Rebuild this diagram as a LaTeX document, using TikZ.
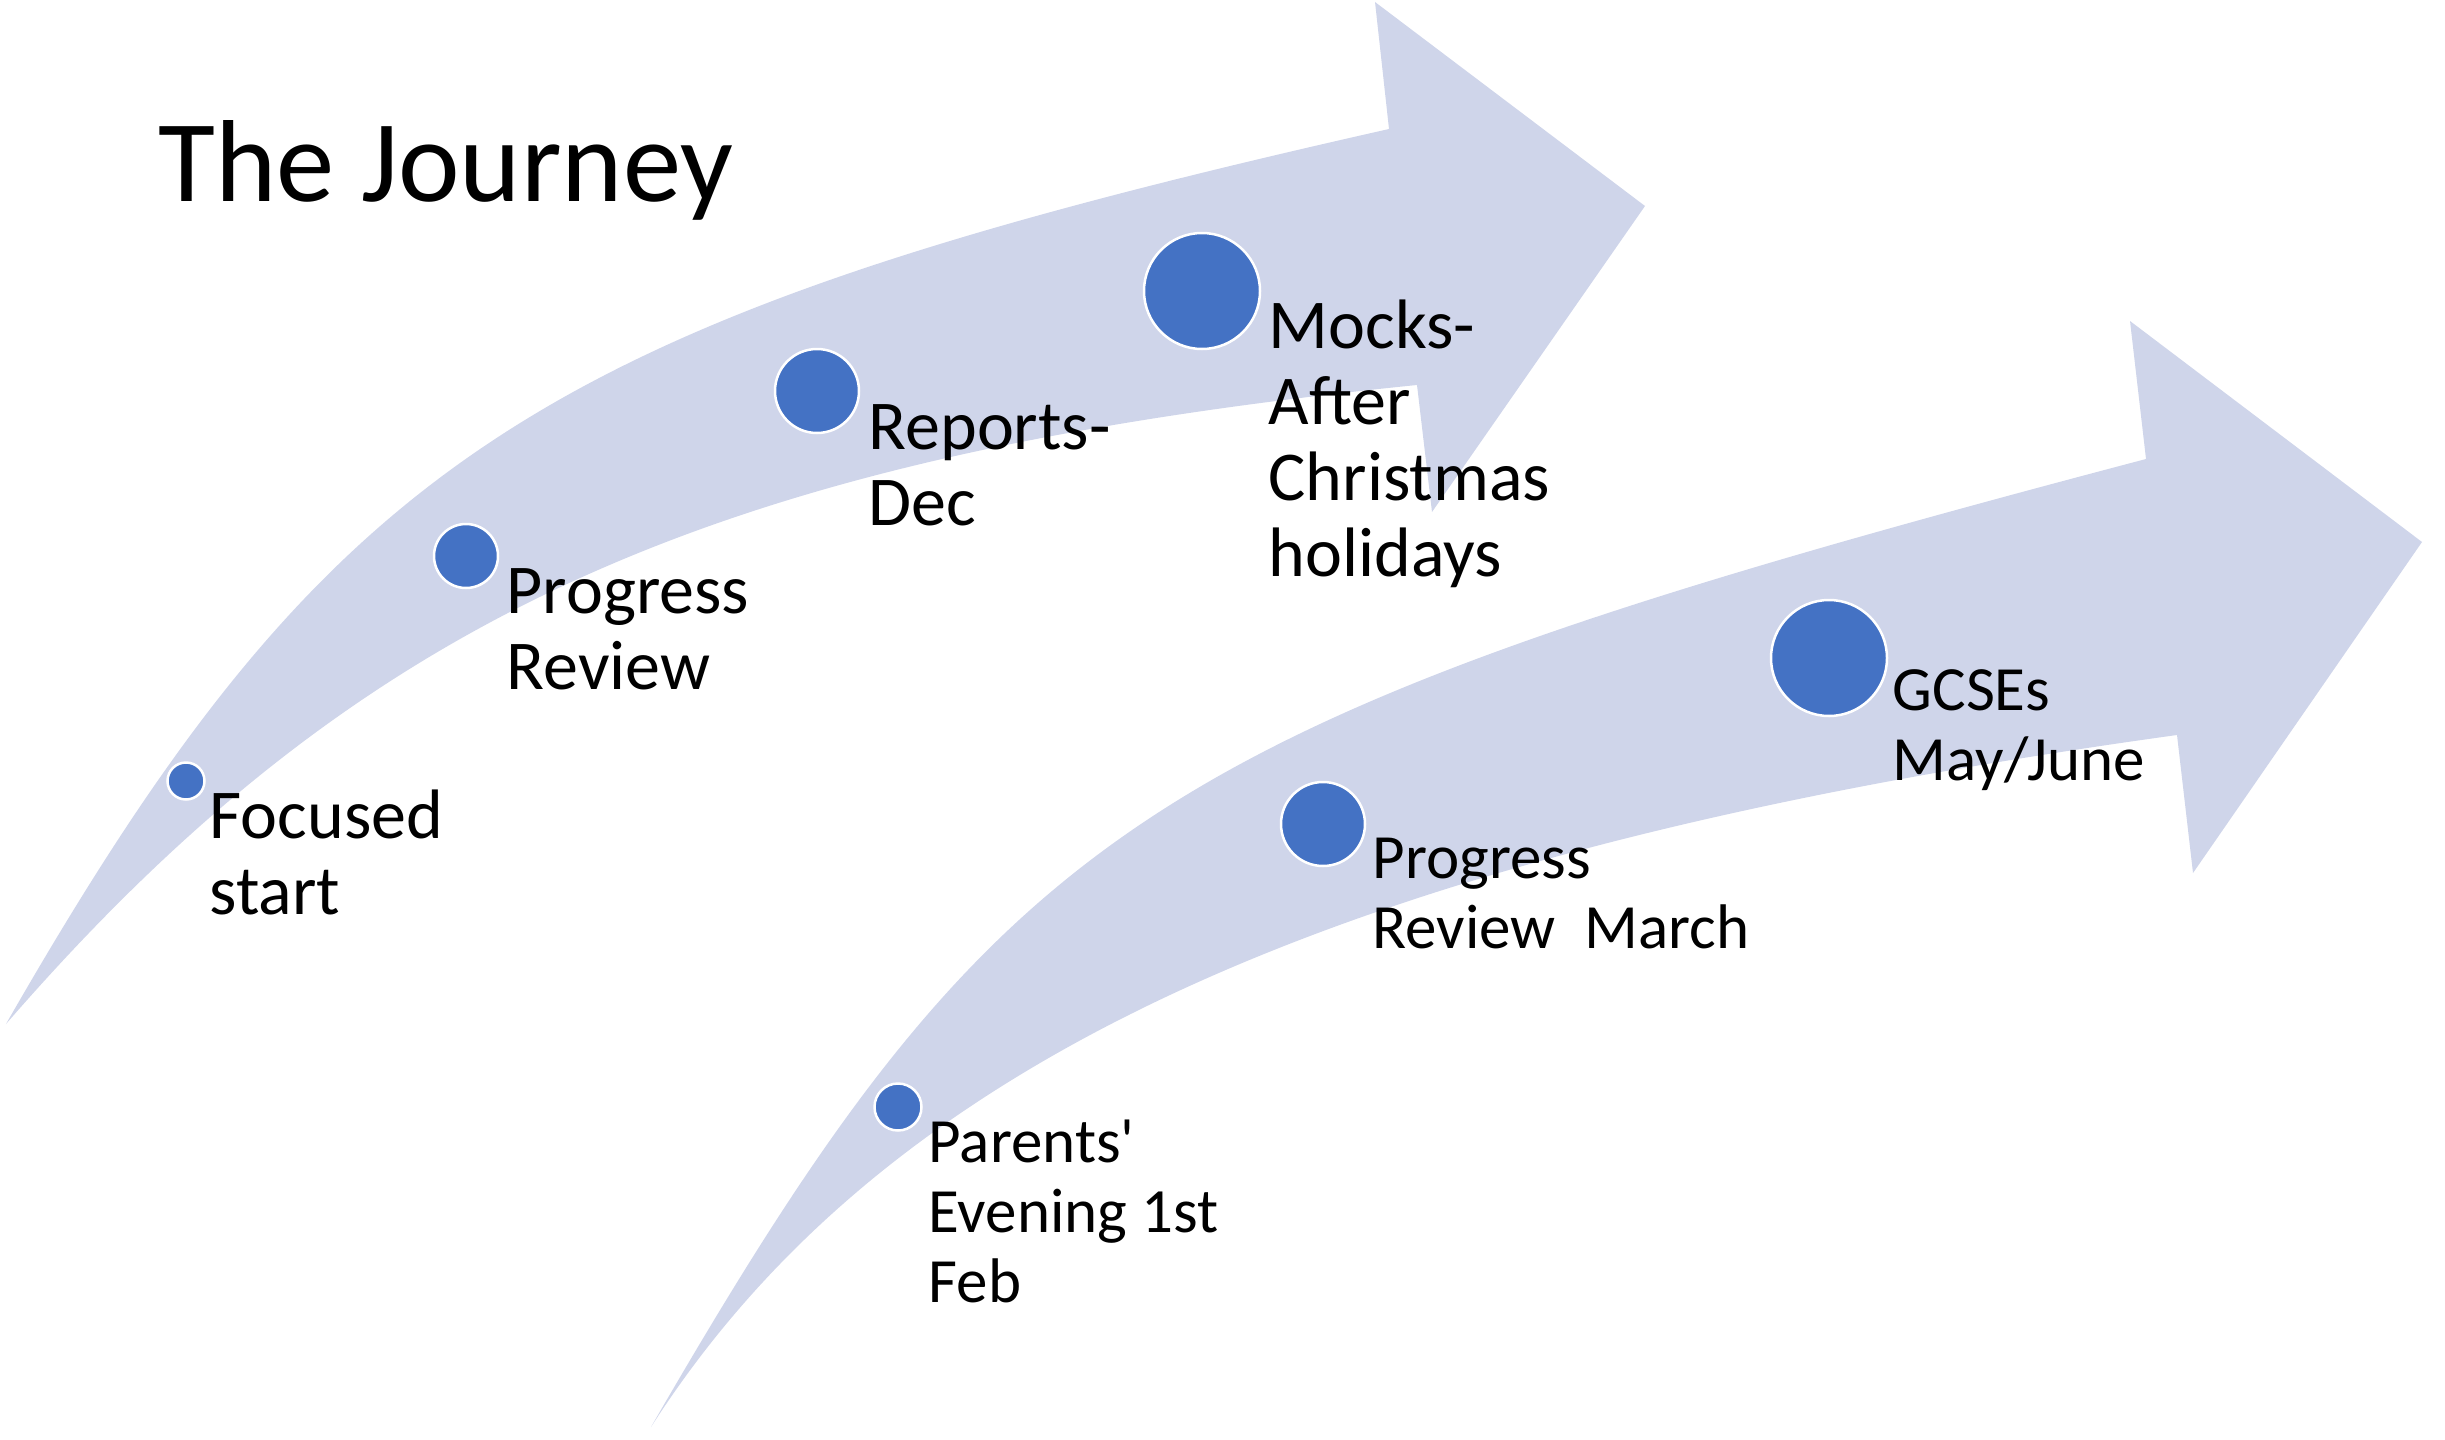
\documentclass[tikz,border=0pt]{standalone}
\usepackage{fontspec}
\setmainfont{Carlito}
\definecolor{bandcol}{RGB}{207,213,234}
\definecolor{dotcol}{RGB}{68,114,196}
\begin{document}
\begin{tikzpicture}[x=0.3pt,y=-0.3pt,
  bandshape/.style={fill=bandcol,draw=none},
  dot/.style={circle,fill=dotcol,draw=white,line width=0.75pt,inner sep=0pt},
  lblA/.style={anchor=base west,inner sep=0pt,align=left,font=\fontsize{21}{22.8}\selectfont},
  lblB/.style={anchor=base west,inner sep=0pt,align=left,font=\fontsize{18.9}{21}\selectfont},
  titlestyle/.style={anchor=base west,inner sep=0pt,font=\fontsize{35}{42}\selectfont}]
\useasboundingbox (0,0) rectangle (2445,1440);
% upper arrow
\path[bandshape] (6,1024) .. controls (333,454) and (541,320) .. (1389,129)
  -- (1375,2) -- (1645,206) -- (1432,512) -- (1417,385)
  .. controls (713,456) and (361,615) .. (6,1024) -- cycle;
% lower arrow
\path[bandshape] (651,1427) .. controls (1003,818) and (1152,721) .. (2146,459)
  -- (2130,321) -- (2422,542) -- (2193,873) -- (2177,735)
  .. controls (1345,850) and (888,1057) .. (651,1427) -- cycle;
% title
\node[titlestyle] (title) at (158,201) {The Journey};
% dots
\node[dot,minimum size=11.1pt] (d1) at (186,781) {};
\node[dot,minimum size=19.2pt] (d2) at (466,556) {};
\node[dot,minimum size=25.2pt] (d3) at (817,391) {};
\node[dot,minimum size=34.8pt] (d4) at (1202,291) {};
\node[dot,minimum size=14.1pt] (d5) at (898,1107) {};
\node[dot,minimum size=25.2pt] (d6) at (1323,824) {};
\node[dot,minimum size=34.8pt] (d7) at (1829,658) {};
% labels (anchored at the baseline of the last line)
\node[lblA] (l1) at (209,914) {Focused\\start};
\node[lblA] (l2) at (506,689) {Progress\\Review};
\node[lblA] (l3) at (868,525) {Reports-\\Dec};
\node[lblA] (l4) at (1268,576) {Mocks-\\After\\Christmas\\holidays};
\node[lblB] (l5) at (928,1302) {Parents\textquotesingle\\Evening 1st\\Feb};
\node[lblB] (l6) at (1372,948) {Progress\\Review~~March};
\node[lblB] (l7) at (1892,780) {GCSEs\\May/June};
\end{tikzpicture}
\end{document}
